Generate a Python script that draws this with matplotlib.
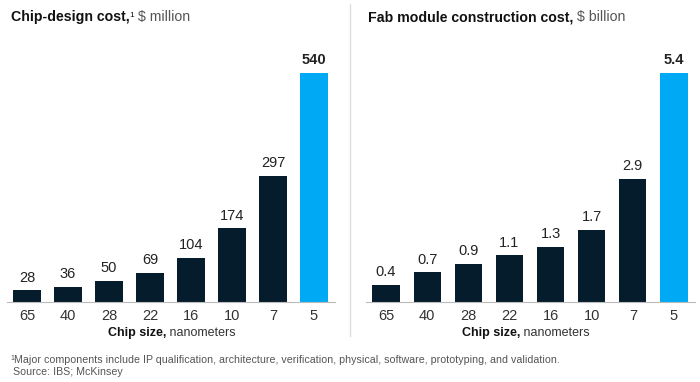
import numpy as np
import matplotlib
matplotlib.use('Agg')
import matplotlib.pyplot as plt

plt.rcParams['font.family'] = ['Liberation Sans', 'DejaVu Sans']

sizes = ['65', '40', '28', '22', '16', '10', '7', '5']
design_cost = [28, 36, 50, 69, 104, 174, 297, 540]
fab_cost = [0.4, 0.7, 0.9, 1.1, 1.3, 1.7, 2.9, 5.4]
design_labels = ['28', '36', '50', '69', '104', '174', '297', '540']
fab_labels = ['0.4', '0.7', '0.9', '1.1', '1.3', '1.7', '2.9', '5.4']

navy = '#051c2c'
blue = '#00a9f4'
W, H = 700, 382

fig = plt.figure(figsize=(7, 3.82), dpi=100)
renderer = fig.canvas.get_renderer()

def px_axes(x0, x1, ytop, ybot):
    return fig.add_axes([x0 / W, 1 - ybot / H, (x1 - x0) / W, (ybot - ytop) / H])

def text_run(x_px, y_px, parts, center=False):
    # parts: list of (string, fontsize, weight, color, dy_px)
    texts = []
    x = x_px
    for s, fs, wt, col, dy in parts:
        t = fig.text(x / W, 1 - (y_px + dy) / H, s, fontsize=fs, fontweight=wt,
                     color=col, va='baseline', ha='left')
        w = t.get_window_extent(renderer).width
        texts.append(t)
        x += w
    if center:
        shift = (x - x_px) / 2
        for t in texts:
            t.set_x(t.get_position()[0] - shift / W)
    return texts

def panel(ax, vals, labels, ymax_val):
    x = np.arange(len(vals))
    colors = [navy] * (len(vals) - 1) + [blue]
    ax.bar(x, vals, width=0.66, color=colors)
    ax.set_xlim(-0.5, len(vals) - 0.5)
    # baseline at 302px, tallest bar top at 73px, axes top at 40px
    ax.set_ylim(0, ymax_val * (302 - 40) / (302 - 73))
    for i, (v, l) in enumerate(zip(vals, labels)):
        ax.annotate(l, (i, v), xytext=(0, 4), textcoords='offset points',
                    ha='center', va='bottom', fontsize=10.5, color='#222222',
                    fontweight='bold' if i == len(vals) - 1 else 'normal')
    for s in ['top', 'right', 'left']:
        ax.spines[s].set_visible(False)
    ax.spines['bottom'].set_color('#bbbbbb')
    ax.set_yticks([])
    ax.set_xticks(x)
    ax.set_xticklabels(sizes, fontsize=10.5, color='#333333')
    ax.tick_params(axis='x', length=0, pad=5)

ax1 = px_axes(6.5, 334.5, 40, 302)
panel(ax1, design_cost, design_labels, 540)
ax2 = px_axes(365.5, 694.5, 40, 302)
panel(ax2, fab_cost, fab_labels, 5.4)

# x labels
for cx in (172, 526):
    text_run(cx, 336, [('Chip size,', 9, 'bold', '#111111', 0),
                       (' nanometers', 9, 'normal', '#333333', 0)], center=True)

# titles
text_run(11, 21, [('Chip-design cost,', 10.2, 'bold', '#111111', 0),
                  ('1', 6, 'normal', '#111111', -4),
                  (' $ million', 10.2, 'normal', '#555555', 0)])
text_run(368, 21, [('Fab module construction cost,', 10.2, 'bold', '#111111', 0),
                   (' $ billion', 10.2, 'normal', '#555555', 0)])

# vertical divider
fig.add_artist(plt.Line2D([350 / W, 350 / W], [1 - 4 / H, 1 - 336 / H],
                          color='#dddddd', lw=1))

# footnotes
text_run(10, 363, [('1', 5, 'normal', '#555555', -3),
                   ('Major components include IP qualification, architecture, verification, '
                    'physical, software, prototyping, and validation.', 7.7, 'normal', '#555555', 0)])
text_run(13, 375, [('Source: IBS; McKinsey', 7.7, 'normal', '#555555', 0)])

fig.savefig('out.png', dpi=100)
